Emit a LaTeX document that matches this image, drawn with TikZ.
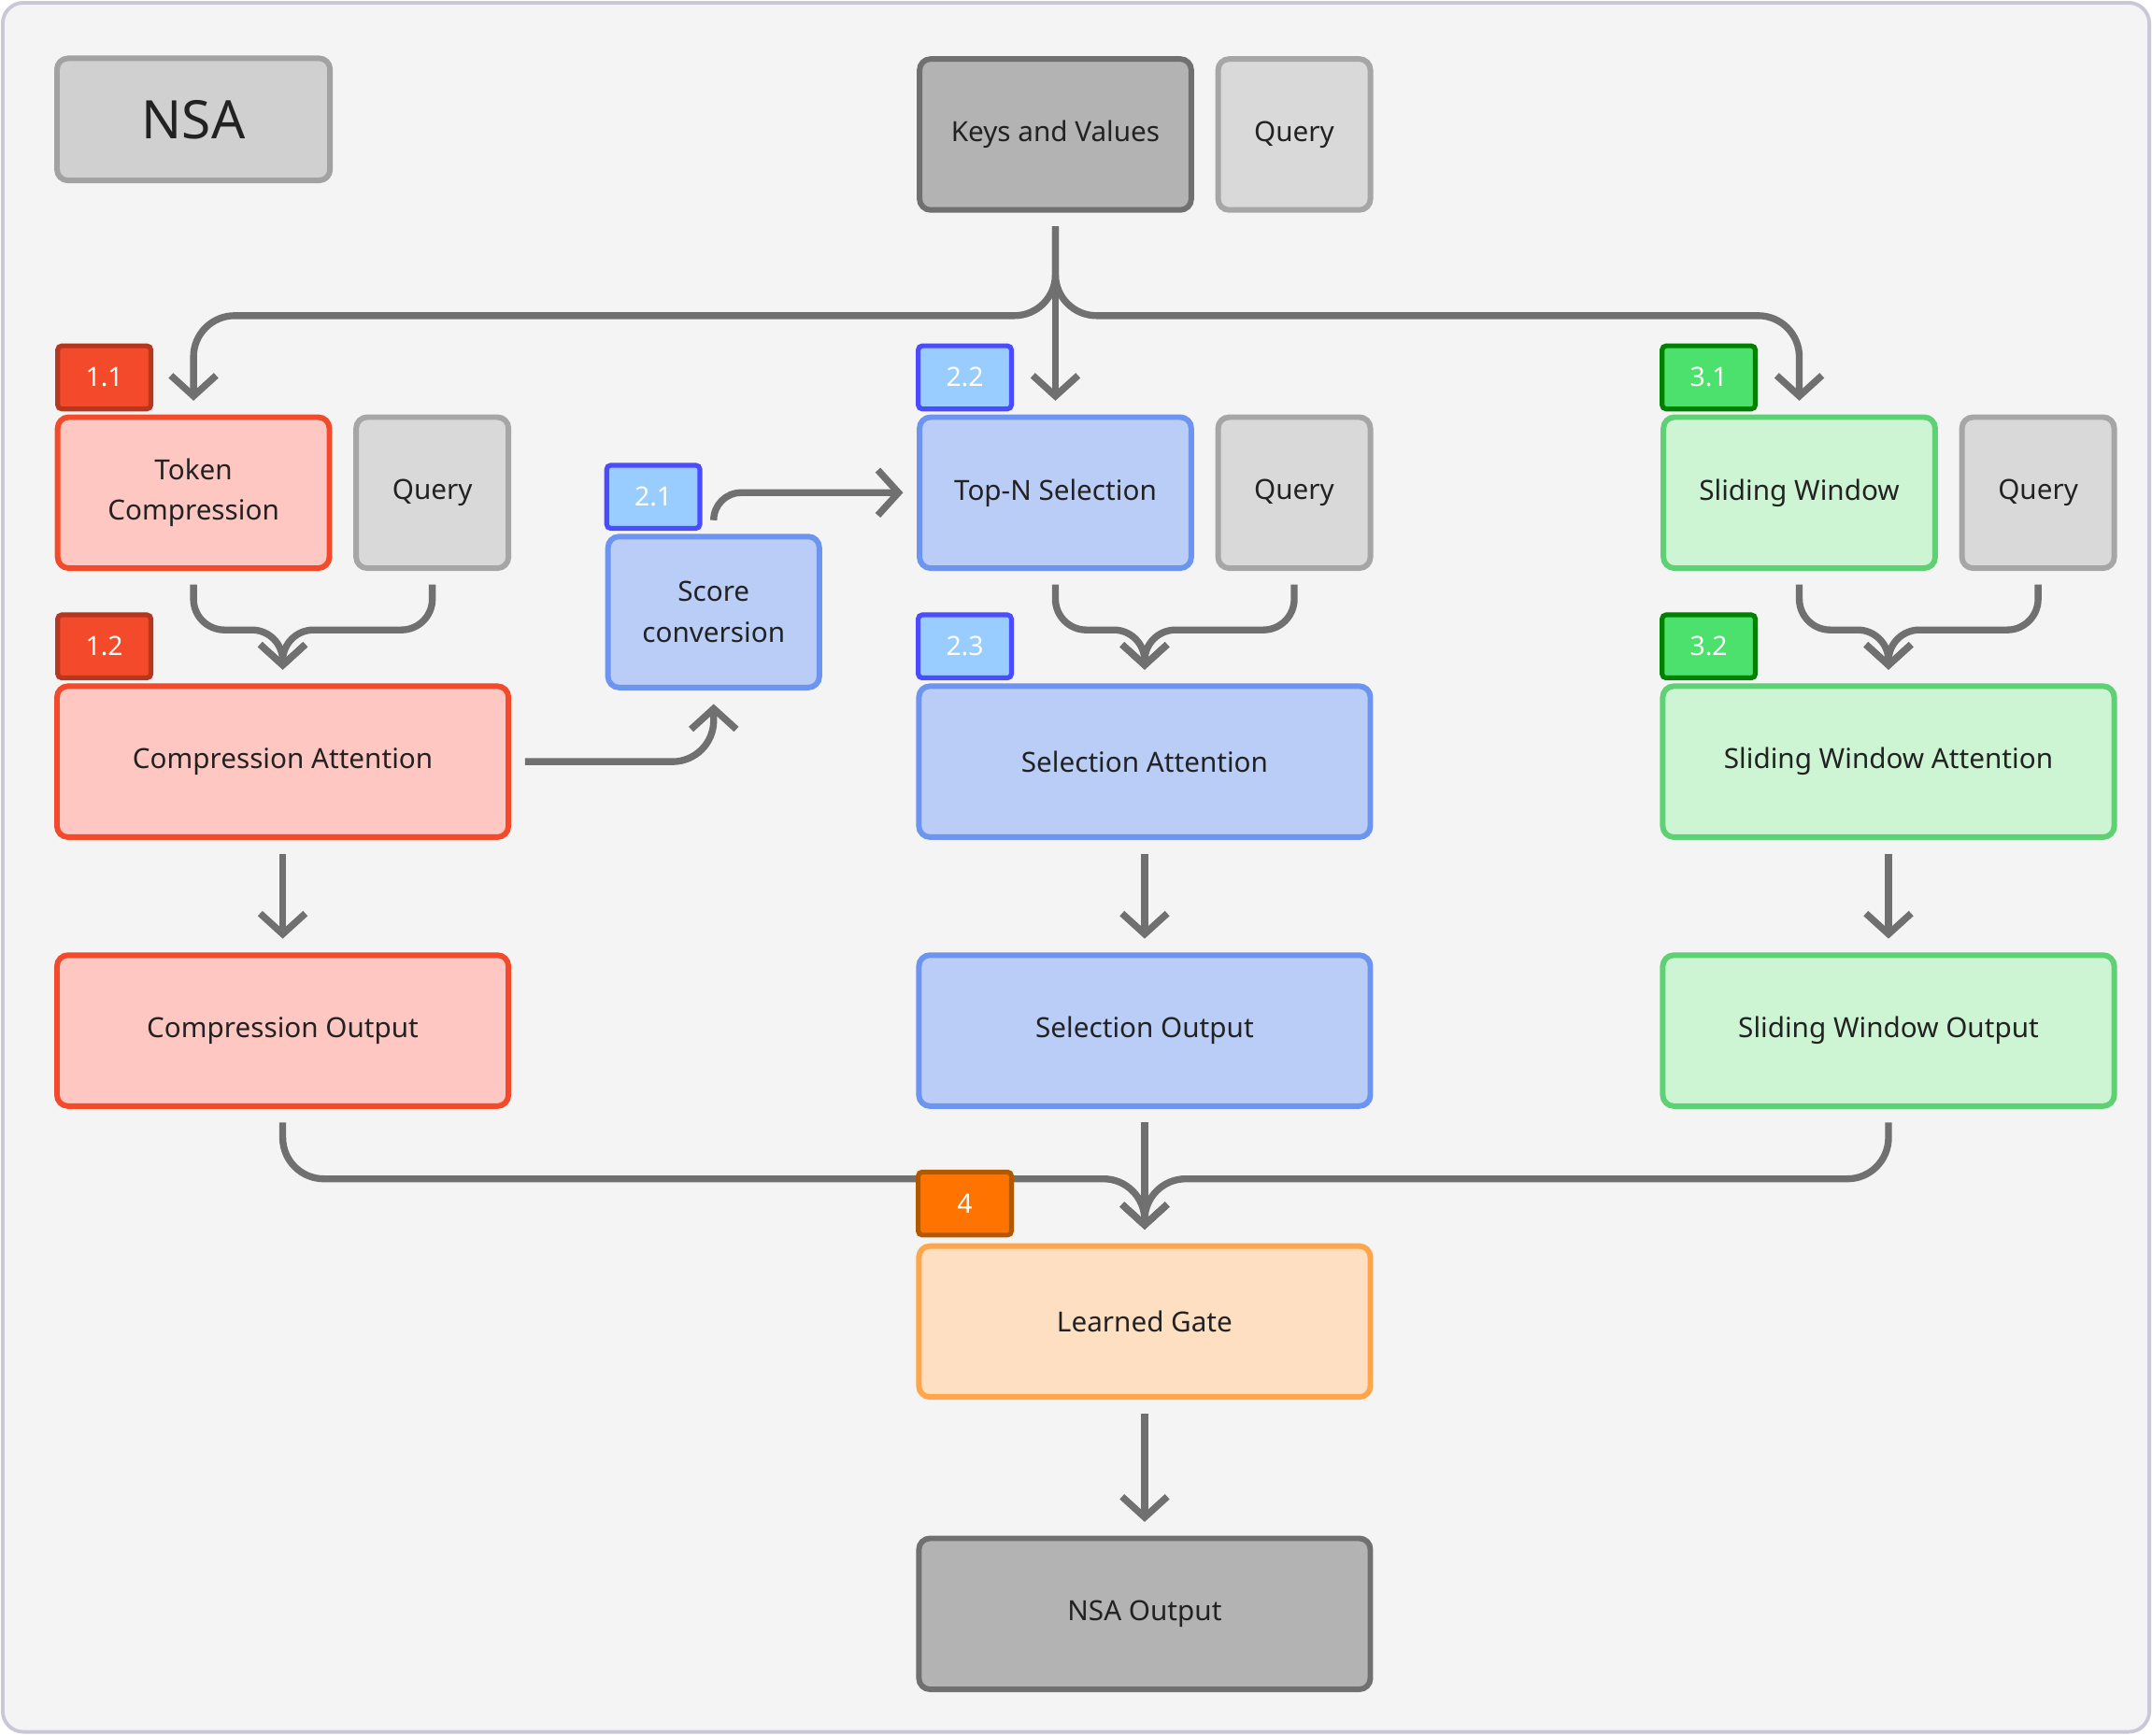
\documentclass[tikz,border=0pt]{standalone}
\usepackage{fontspec}
\setmainfont{Noto Sans}
\usetikzlibrary{arrows.meta}

\definecolor{bgc}{HTML}{F4F4F4}
\definecolor{framec}{HTML}{C8C8D6}
\definecolor{linec}{HTML}{707070}
\definecolor{txtc}{HTML}{222222}
\definecolor{redfill}{HTML}{FFC7C2}
\definecolor{reddraw}{HTML}{F24A2A}
\definecolor{bluefill}{HTML}{B9CDF6}
\definecolor{bluedraw}{HTML}{6D95F0}
\definecolor{greenfill}{HTML}{CDF5D3}
\definecolor{greendraw}{HTML}{5FD175}
\definecolor{orangefill}{HTML}{FFDFC2}
\definecolor{orangedraw}{HTML}{FFA64D}
\definecolor{darkfill}{HTML}{B3B3B3}
\definecolor{darkdraw}{HTML}{707070}
\definecolor{lightfill}{HTML}{D9D9D9}
\definecolor{lightdraw}{HTML}{A6A6A6}

\tikzset{
  box/.style={rounded corners=0.16cm, line width=2.3pt, align=center, text=txtc,
    font=\fontsize{11.5}{17}\selectfont, minimum height=2.2cm},
  redbox/.style={box, fill=redfill, draw=reddraw},
  bluebox/.style={box, fill=bluefill, draw=bluedraw},
  greenbox/.style={box, fill=greenfill, draw=greendraw},
  orangebox/.style={box, fill=orangefill, draw=orangedraw},
  darkbox/.style={box, fill=darkfill, draw=darkdraw},
  querybox/.style={box, fill=lightfill, draw=lightdraw, minimum width=2.22cm},
  small/.style={minimum width=3.96cm},
  wide/.style={minimum width=6.58cm},
  badge/.style={rounded corners=0.06cm, line width=2pt, text=white, minimum width=1.36cm,
    minimum height=0.92cm, font=\bfseries\fontsize{11}{13}\selectfont},
  arr/.style={draw=linec, line width=2.85pt, -{Straight Barb[length=0.3cm,width=0.66cm]},
    shorten <=0.2cm, shorten >=0.2cm},
}

\begin{document}
\begin{tikzpicture}[x=0.02cm, y=-0.02cm]
  \useasboundingbox (0,0) rectangle (1568,1265);
  \draw[fill=bgc, draw=framec, line width=1.5pt, rounded corners=0.3cm] (2,2) rectangle (1566,1262);

  \node[box, fill=lightfill!90!gray, draw=lightdraw!90!gray, minimum width=3.98cm, minimum height=1.78cm,
    font=\bfseries\fontsize{22}{26}\selectfont] (nsa) at (141,87) {NSA};
  \node[darkbox, small] (kv) at (769,98) {Keys and Values};
  \node[querybox] (q0) at (943,98) {Query};

  \node[redbox, small] (tc) at (141,359) {Token\\Compression};
  \node[querybox] (q1) at (315,359) {Query};
  \node[redbox, wide] (ca) at (206,555) {Compression Attention};
  \node[redbox, wide] (co) at (206,751) {Compression Output};

  \node[bluebox, minimum width=3.08cm] (sc) at (520,446) {Score\\conversion};
  \node[bluebox, small] (tn) at (769,359) {Top-N Selection};
  \node[querybox] (q2) at (943,359) {Query};
  \node[bluebox, wide] (sa) at (834,555) {Selection Attention};
  \node[bluebox, wide] (so) at (834,751) {Selection Output};

  \node[greenbox, small] (sw) at (1311,359) {Sliding Window};
  \node[querybox] (q3) at (1485,359) {Query};
  \node[greenbox, wide] (swa) at (1376,555) {Sliding Window Attention};
  \node[greenbox, wide] (swo) at (1376,751) {Sliding Window Output};

  \node[orangebox, wide] (lg) at (834,963) {Learned Gate};
  \node[darkbox, wide] (nso) at (834,1176) {NSA Output};

  \draw[arr, rounded corners=0.6cm] (kv.south) -- ++(0,75) -| (tc.north);
  \draw[arr] (kv.south) -- (tn.north);
  \draw[arr, rounded corners=0.6cm] (kv.south) -- ++(0,75) -| (sw.north);

  \draw[arr, rounded corners=0.45cm] (tc.south) -- ++(0,43) -| (ca.north);
  \draw[arr, rounded corners=0.45cm] (q1.south) -- ++(0,43) -| (ca.north);
  \draw[arr, rounded corners=0.45cm] (tn.south) -- ++(0,43) -| (sa.north);
  \draw[arr, rounded corners=0.45cm] (q2.south) -- ++(0,43) -| (sa.north);
  \draw[arr, rounded corners=0.45cm] (sw.south) -- ++(0,43) -| (swa.north);
  \draw[arr, rounded corners=0.45cm] (q3.south) -- ++(0,43) -| (swa.north);

  \draw[arr, rounded corners=0.6cm] (ca.east) -| (sc.south);
  \draw[arr, rounded corners=0.4cm] (sc.north) |- (tn.west);

  \draw[arr] (ca) -- (co);
  \draw[arr] (sa) -- (so);
  \draw[arr] (swa) -- (swo);

  \draw[arr, rounded corners=0.6cm] (co.south) -- ++(0,51) -| (lg.north);
  \draw[arr] (so.south) -- (lg.north);
  \draw[arr, rounded corners=0.6cm] (swo.south) -- ++(0,51) -| (lg.north);
  \draw[arr] (lg) -- (nso);

  \node[badge, fill=reddraw, draw=reddraw!75!black] (b11) at (76,275) {1.1};
  \node[badge, fill=reddraw, draw=reddraw!75!black] (b12) at (76,471) {1.2};
  \node[badge, fill=blue!50!cyan!40!white, draw=blue!70!white] (b21) at (476,362) {2.1};
  \node[badge, fill=blue!50!cyan!40!white, draw=blue!70!white] (b22) at (703,275) {2.2};
  \node[badge, fill=blue!50!cyan!40!white, draw=blue!70!white] (b23) at (703,471) {2.3};
  \node[badge, fill=green!65!teal!70!white, draw=green!50!black] (b31) at (1245,275) {3.1};
  \node[badge, fill=green!65!teal!70!white, draw=green!50!black] (b32) at (1245,471) {3.2};
  \node[badge, fill=orange!90!red, draw=orange!70!black] (b4) at (703,877) {4};
\end{tikzpicture}
\end{document}
